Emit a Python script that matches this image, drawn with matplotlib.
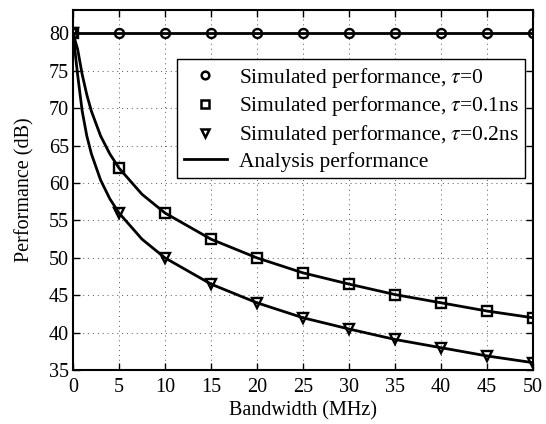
import numpy as np
import matplotlib
matplotlib.use("Agg")
import matplotlib.pyplot as plt
from matplotlib.lines import Line2D

plt.rcParams["font.family"] = ["Liberation Serif", "DejaVu Serif"]
plt.rcParams["mathtext.fontset"] = "stix"

# simulated points (MHz, dB)
bw_sim = [0, 5, 10, 15, 20, 25, 30, 35, 40, 45, 50]
sim_tau0 = [80, 80, 80, 80, 80, 80, 80, 80, 80, 80, 80]
sim_tau01 = [80, 62, 56, 52.5, 50, 48, 46.5, 45.1, 44, 42.9, 42]
sim_tau02 = [80, 56, 50, 46.5, 44, 42, 40.5, 39.1, 37.9, 36.9, 36]

# analysis curves
bw_ana = [0, 0.5, 1, 1.5, 2, 3, 4, 5, 7.5, 10, 15, 20, 25, 30, 35, 40, 45, 50]
ana_tau0 = [80] * len(bw_ana)
ana_tau01 = [80, 77.9, 74.5, 71.8, 69.6, 66.3, 63.9, 62.0, 58.5, 56.0, 52.5,
             50.0, 48.0, 46.5, 45.1, 44.0, 42.9, 42.0]
ana_tau02 = [80, 74.5, 69.6, 66.3, 63.9, 60.4, 57.9, 56.0, 52.5, 50.0, 46.5,
             44.0, 42.0, 40.5, 39.1, 38.0, 36.9, 36.0]

fig = plt.figure(figsize=(5.46, 4.24), dpi=100)
ax = fig.add_axes([0.1337, 0.127, 0.8425, 0.849])

lw = 2.0
for y in (ana_tau0, ana_tau01, ana_tau02):
    ax.plot(bw_ana, y, color="black", lw=lw, zorder=3)

mk = dict(ls="none", mfc="none", mec="black", mew=1.7, ms=6.5, zorder=4)
ax.plot(bw_sim, sim_tau0, marker="o", **mk)
ax.plot(bw_sim, sim_tau01, marker="s", **mk)
ax.plot(bw_sim, sim_tau02, marker="v", **mk)

ax.set_xlim(0, 50)
ax.set_ylim(35, 83.1)
ax.set_xticks(np.arange(0, 51, 5))
ax.set_yticks(np.arange(35, 81, 5))
ax.grid(True, ls=(0, (1, 4)), color="#555555", lw=0.7)
ax.tick_params(direction="in", top=True, right=True, labelsize=14.5, length=5,
               width=1)
ax.tick_params(axis="x", pad=6)
ax.tick_params(axis="y", pad=3)
for s in ax.spines.values():
    s.set_linewidth(1.5)

ax.set_xlabel("Bandwidth (MHz)", fontsize=14.5, labelpad=3)
ax.set_ylabel("Performance (dB)", fontsize=14.5, labelpad=10)

lmk = dict(mk, ms=5.5, mew=1.8)
handles = [
    Line2D([], [], marker="o", **lmk),
    Line2D([], [], marker="s", **lmk),
    Line2D([], [], marker="v", **lmk),
    Line2D([], [], color="black", lw=lw),
]
labels = [
    r"Simulated performance, $\tau$=0",
    r"Simulated performance, $\tau$=0.1ns",
    r"Simulated performance, $\tau$=0.2ns",
    "Analysis performance",
]
leg = ax.legend(handles, labels, loc="upper right", bbox_to_anchor=(0.983, 0.864),
                fontsize=15.5, frameon=True, fancybox=False, edgecolor="black",
                framealpha=1, handlelength=2.0, borderpad=0.3, labelspacing=0.22,
                handletextpad=0.55, borderaxespad=0)
leg.get_frame().set_linewidth(1.0)

fig.savefig("out.png", dpi=100)
